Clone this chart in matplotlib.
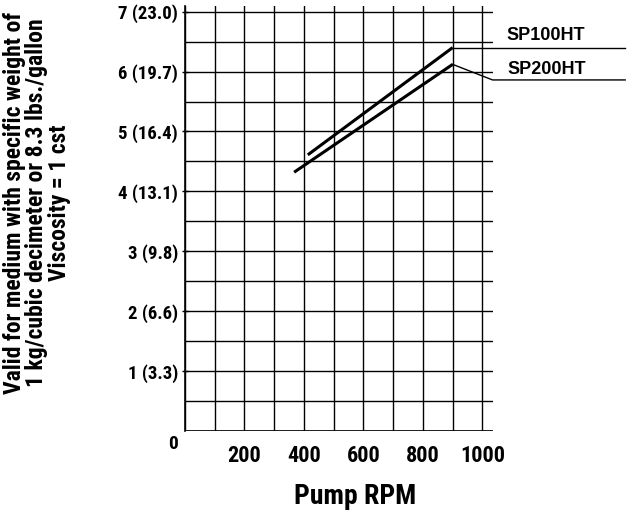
import matplotlib
matplotlib.use("Agg")
import matplotlib.pyplot as plt
from matplotlib.ticker import MultipleLocator

# data
rpm_major = [200, 400, 600, 800, 1000]
flow_major = [1, 2, 3, 4, 5, 6, 7]
flow_labels = ["1 (3.3)", "2 (6.6)", "3 (9.8)", "4 (13.1)", "5 (16.4)", "6 (19.7)", "7 (23.0)"]

sp100_rpm = [413, 900]
sp100_flow = [4.61, 6.40]
sp200_rpm = [367, 900]
sp200_flow = [4.32, 6.12]

# leader lines from curve ends to the labels
sp100_lead_rpm = [900, 1480]
sp100_lead_flow = [6.40, 6.40]
sp200_lead_rpm = [900, 1034, 1480]
sp200_lead_flow = [6.12, 5.86, 5.86]

narrow = ["Roboto Condensed", "Liberation Sans Narrow", "Barlow Condensed", "DejaVu Sans"]
wide = ["Liberation Sans", "DejaVu Sans"]

fig = plt.figure(figsize=(6.27, 5.12), dpi=100)
ax = fig.add_axes([0.295, 0.158, 0.491, 0.831])

ax.set_xlim(0, 1035)
ax.set_ylim(0, 7.1)

ax.xaxis.set_major_locator(plt.FixedLocator(rpm_major))
ax.xaxis.set_minor_locator(MultipleLocator(100))
ax.set_yticks(flow_major)
ax.set_yticklabels(flow_labels)
ax.yaxis.set_minor_locator(MultipleLocator(0.5))

ax.grid(which="both", color="black", linewidth=1.0)
ax.set_axisbelow(True)
for s in ["top", "right", "bottom"]:
    ax.spines[s].set_visible(False)
ax.spines["left"].set_linewidth(1.2)
ax.axhline(0, color="black", linewidth=1.2)

ax.tick_params(which="both", length=0)
ax.tick_params(axis="y", which="major", length=4, direction="inout", width=1)
ax.tick_params(axis="y", pad=3)
ax.tick_params(axis="x", pad=10)
for lab in ax.get_yticklabels():
    lab.set_fontfamily(narrow)
    lab.set_fontweight("bold")
    lab.set_fontsize(13.5)
for lab in ax.get_xticklabels():
    lab.set_fontfamily(narrow)
    lab.set_fontweight("bold")
    lab.set_fontsize(16)

ax.text(-0.04, -0.008, "0", transform=ax.transAxes, ha="center", va="top",
        fontfamily=narrow, fontweight="bold", fontsize=14)

ax.plot(sp100_rpm, sp100_flow, color="black", linewidth=2.2, solid_capstyle="butt")
ax.plot(sp200_rpm, sp200_flow, color="black", linewidth=2.2, solid_capstyle="butt")
ax.plot(sp100_lead_rpm, sp100_lead_flow, color="black", linewidth=1.0, clip_on=False)
ax.plot(sp200_lead_rpm, sp200_lead_flow, color="black", linewidth=1.0, clip_on=False)

fig.text(506 / 627, 1 - 36 / 512, "SP100HT", ha="left", va="center",
         fontfamily=wide, fontweight="bold", fontsize=13)
fig.text(507 / 627, 1 - 69 / 512, "SP200HT", ha="left", va="center",
         fontfamily=wide, fontweight="bold", fontsize=13)

fig.text(355 / 627, 1 - 497 / 512, "Pump RPM", ha="center", va="center",
         fontfamily=narrow, fontweight="bold", fontsize=20)

fig.text(37 / 627, 1 - 203 / 512,
         "Valid for medium with specific weight of\n1 kg/cubic decimeter or 8.3 lbs./gallon\nViscosity = 1 cst",
         rotation=90, ha="center", va="center", multialignment="center",
         fontfamily=narrow, fontweight="bold", fontsize=17, linespacing=0.95)

fig.savefig("out.png", dpi=100)
